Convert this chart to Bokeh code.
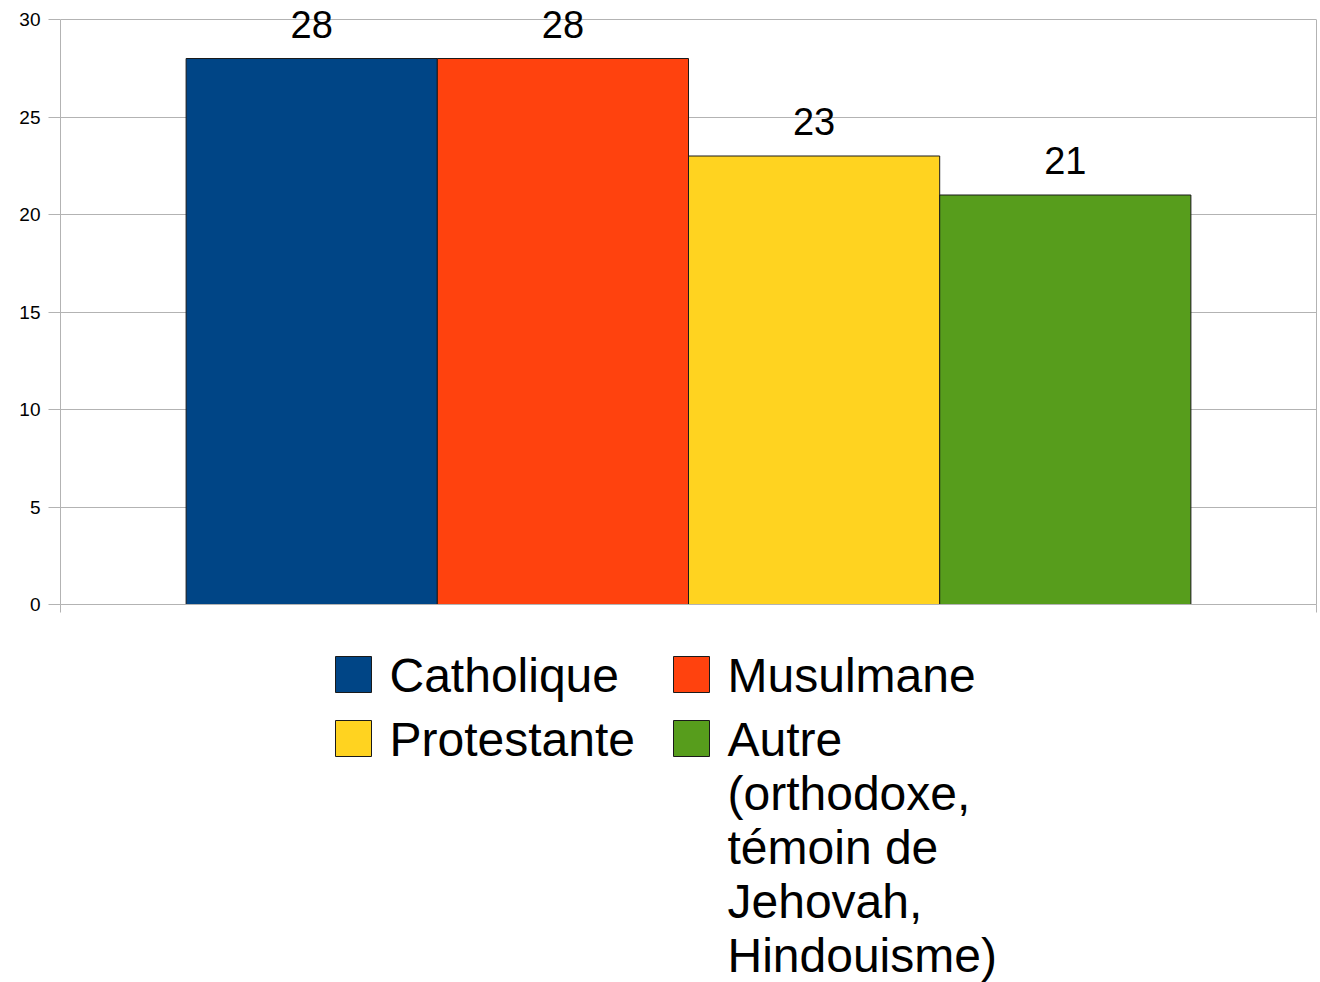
from bokeh.plotting import figure
from bokeh.layouts import column
from bokeh.models import Range1d, FixedTicker, ColumnDataSource, LabelSet, LinearAxis
from bokeh.core.properties import value
from bokeh.embed import file_html
from bokeh.resources import INLINE

categories = ["Catholique", "Musulmane", "Protestante",
              "Autre\n(orthodoxe,\ntémoin de\nJehovah,\nHindouisme)"]
values = [28, 28, 23, 21]
colors = ["#004586", "#ff420e", "#ffd320", "#579d1c"]
y_ticks = [0, 5, 10, 15, 20, 25, 30]

FONT = "Liberation Sans"
GRID = "#b3b3b3"
EDGE = "#1a1a1a"

W = 1320
H_MAIN = 640
H_LEG = 342
FRAME_L, FRAME_R = 60, 1316
FRAME_BOTTOM = 604
Y_MAX = y_ticks[-1]
TOP_PX = 19            # pixel row of the top gridline
n = len(values)

# ---------------- main chart ----------------
# frame reaches the top of the canvas so the value labels are not clipped;
# the y range is stretched so that Y_MAX sits at TOP_PX
y_end = Y_MAX * FRAME_BOTTOM / (FRAME_BOTTOM - TOP_PX)
p = figure(width=W, height=H_MAIN, output_backend="svg", toolbar_location=None,
           x_range=Range1d(0, n + 1), y_range=Range1d(0, y_end),
           min_border_left=FRAME_L, min_border_right=W - FRAME_R, min_border_top=0,
           min_border_bottom=H_MAIN - FRAME_BOTTOM)
p.outline_line_color = None
p.background_fill_color = "white"
p.border_fill_color = "white"

src = ColumnDataSource(dict(x=[i + 1 for i in range(n)], top=values, color=colors,
                            label=[str(v) for v in values]))
p.vbar(x="x", top="top", width=1.0, bottom=0, source=src,
       fill_color="color", line_color=EDGE, line_width=1)

labels = LabelSet(x="x", y="top", text="label", source=src, text_align="center",
                  text_baseline="alphabetic", y_offset=21,
                  text_font=value(FONT), text_font_size="38px", text_color="black")
p.add_layout(labels)

p.yaxis.ticker = FixedTicker(ticks=y_ticks)
p.yaxis.bounds = (0, Y_MAX)
p.yaxis.major_tick_out = 12
p.yaxis.major_tick_in = 0
p.yaxis.minor_tick_line_color = None
p.yaxis.major_tick_line_color = GRID
p.yaxis.axis_line_color = GRID
p.yaxis.major_label_text_font = FONT
p.yaxis.major_label_text_font_size = "19px"
p.yaxis.major_label_text_color = "black"
p.yaxis.major_label_standoff = 8

p.xaxis.ticker = FixedTicker(ticks=[0, n + 1])
p.xaxis.major_label_overrides = {0: "", n + 1: ""}
p.xaxis.major_tick_out = 8
p.xaxis.major_tick_in = 0
p.xaxis.minor_tick_line_color = None
p.xaxis.major_tick_line_color = GRID
p.xaxis.axis_line_color = GRID

right_ax = LinearAxis(ticker=FixedTicker(ticks=[]), bounds=(0, Y_MAX),
                      axis_line_color=GRID, major_tick_line_color=None,
                      minor_tick_line_color=None, major_tick_out=0, major_tick_in=0,
                      major_label_standoff=0, axis_label=None)
p.add_layout(right_ax, "right")

p.xgrid.grid_line_color = None
p.ygrid.grid_line_color = GRID
p.ygrid.ticker = FixedTicker(ticks=y_ticks)

# ---------------- legend (drawn below, pixel-space figure) ----------------
leg = figure(width=W, height=H_LEG, output_backend="svg", toolbar_location=None,
             x_range=Range1d(FRAME_L, FRAME_R), y_range=Range1d(H_LEG, 0),
             x_axis_location=None, y_axis_location=None,
             min_border=0, min_border_left=FRAME_L, min_border_right=W - FRAME_R,
             min_border_top=0, min_border_bottom=0)
leg.grid.visible = False
leg.outline_line_color = None
leg.background_fill_color = "white"
leg.border_fill_color = "white"

col_x = [335, 673]        # swatch left per legend column (page px)
row_y = [16, 80]          # swatch top per legend row (px below chart)
SW = 36
LINE = 54
TEXT_SHIFT = -16          # compensates the text glyph's baseline placement
sw_l, sw_r, sw_t, sw_b, sw_c = [], [], [], [], []
tx, ty, tt = [], [], []
for i, name in enumerate(categories):
    c, r = i % 2, i // 2
    left, top = col_x[c], row_y[r]
    sw_l.append(left); sw_r.append(left + SW)
    sw_t.append(top); sw_b.append(top + SW)
    sw_c.append(colors[i])
    for k, line in enumerate(name.split("\n")):
        tx.append(left + SW + 18)
        ty.append(top + SW - 1 + k * LINE + TEXT_SHIFT)
        tt.append(line)

leg.quad(left=sw_l, right=sw_r, top=sw_t, bottom=sw_b, fill_color=sw_c,
         line_color=EDGE, line_width=1)
leg.text(x=tx, y=ty, text=tt, text_font=value(FONT), text_font_size="48px",
         text_color="black", text_baseline="alphabetic", text_align="left")

layout = column(p, leg, spacing=0)
open("out.html", "w").write(file_html(layout, INLINE))
